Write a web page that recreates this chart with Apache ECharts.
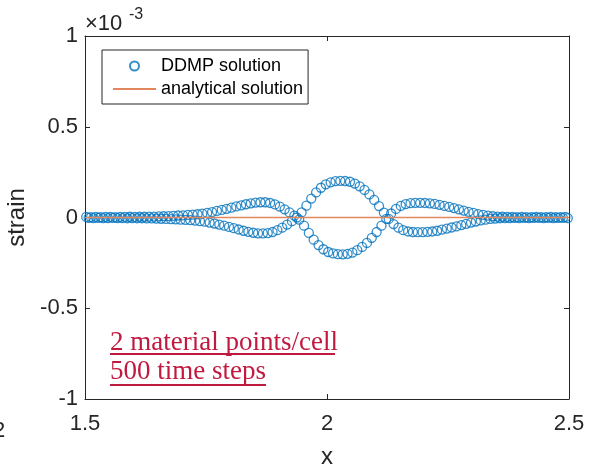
<!DOCTYPE html>
<html>
<head>
<meta charset="utf-8">
<script src="https://cdn.jsdelivr.net/npm/echarts@6/dist/echarts.min.js"></script>
<style>
html, body { margin: 0; padding: 0; background: #fff; }
#chart { width: 596px; height: 468px; }
</style>
</head>
<body>
<div id="chart"></div>
<script>
// strain values are in units of 1e-3 (axis shows x10^-3)
const xA = [
  1.5025, 1.5125, 1.5225, 1.5325, 1.5425, 1.5525, 1.5625, 1.5725, 1.5825, 1.5925,
  1.6025, 1.6125, 1.6225, 1.6325, 1.6425, 1.6525, 1.6625, 1.6725, 1.6825, 1.6925,
  1.7025, 1.7125, 1.7225, 1.7325, 1.7425, 1.7525, 1.7625, 1.7725, 1.7825, 1.7925,
  1.8025, 1.8125, 1.8225, 1.8325, 1.8425, 1.8525, 1.8625, 1.8725, 1.8825, 1.8925,
  1.9025, 1.9125, 1.9225, 1.9325, 1.9425, 1.9525, 1.9625, 1.9725, 1.9825, 1.9925,
  2.0025, 2.0125, 2.0225, 2.0325, 2.0425, 2.0525, 2.0625, 2.0725, 2.0825, 2.0925,
  2.1025, 2.1125, 2.1225, 2.1325, 2.1425, 2.1525, 2.1625, 2.1725, 2.1825, 2.1925,
  2.2025, 2.2125, 2.2225, 2.2325, 2.2425, 2.2525, 2.2625, 2.2725, 2.2825, 2.2925,
  2.3025, 2.3125, 2.3225, 2.3325, 2.3425, 2.3525, 2.3625, 2.3725, 2.3825, 2.3925,
  2.4025, 2.4125, 2.4225, 2.4325, 2.4425, 2.4525, 2.4625, 2.4725, 2.4825, 2.4925
];
const yA = [
  0.003, 0.002, 0.003, 0.002, 0.003, 0.003, 0.002, 0.003, 0.003, 0.004,
  0.003, 0.004, 0.004, 0.005, 0.005, 0.006, 0.007, 0.008, 0.009, 0.011,
  0.012, 0.014, 0.016, 0.018, 0.021, 0.025, 0.030, 0.036, 0.042, 0.048,
  0.054, 0.061, 0.067, 0.073, 0.078, 0.082, 0.084, 0.084, 0.080, 0.072,
  0.060, 0.045, 0.028, 0.010, -0.012, -0.045, -0.085, -0.122, -0.152, -0.175,
  -0.190, -0.198, -0.202, -0.203, -0.200, -0.193, -0.180, -0.162, -0.140, -0.112,
  -0.080, -0.045, -0.008, 0.022, 0.047, 0.064, 0.074, 0.079, 0.081, 0.081,
  0.080, 0.078, 0.075, 0.070, 0.064, 0.058, 0.052, 0.045, 0.038, 0.031,
  0.025, 0.019, 0.014, 0.010, 0.007, 0.005, 0.004, 0.003, 0.003, 0.002,
  0.003, 0.002, 0.002, 0.003, 0.002, 0.002, 0.003, 0.002, 0.002, 0.003
];
const xB = [
  1.5075, 1.5175, 1.5275, 1.5375, 1.5475, 1.5575, 1.5675, 1.5775, 1.5875, 1.5975,
  1.6075, 1.6175, 1.6275, 1.6375, 1.6475, 1.6575, 1.6675, 1.6775, 1.6875, 1.6975,
  1.7075, 1.7175, 1.7275, 1.7375, 1.7475, 1.7575, 1.7675, 1.7775, 1.7875, 1.7975,
  1.8075, 1.8175, 1.8275, 1.8375, 1.8475, 1.8575, 1.8675, 1.8775, 1.8875, 1.8975,
  1.9075, 1.9175, 1.9275, 1.9375, 1.9475, 1.9575, 1.9675, 1.9775, 1.9875, 1.9975,
  2.0075, 2.0175, 2.0275, 2.0375, 2.0475, 2.0575, 2.0675, 2.0775, 2.0875, 2.0975,
  2.1075, 2.1175, 2.1275, 2.1375, 2.1475, 2.1575, 2.1675, 2.1775, 2.1875, 2.1975,
  2.2075, 2.2175, 2.2275, 2.2375, 2.2475, 2.2575, 2.2675, 2.2775, 2.2875, 2.2975,
  2.3075, 2.3175, 2.3275, 2.3375, 2.3475, 2.3575, 2.3675, 2.3775, 2.3875, 2.3975,
  2.4075, 2.4175, 2.4275, 2.4375, 2.4475, 2.4575, 2.4675, 2.4775, 2.4875, 2.4975
];
const yB = [
  -0.002, -0.003, -0.002, -0.003, -0.003, -0.002, -0.003, -0.003, -0.004, -0.003,
  -0.004, -0.004, -0.005, -0.005, -0.006, -0.007, -0.008, -0.009, -0.010, -0.012,
  -0.013, -0.015, -0.017, -0.020, -0.023, -0.028, -0.033, -0.039, -0.045, -0.052,
  -0.059, -0.066, -0.073, -0.079, -0.084, -0.087, -0.088, -0.086, -0.080, -0.070,
  -0.056, -0.039, -0.020, 0.000, 0.028, 0.065, 0.104, 0.138, 0.164, 0.183,
  0.194, 0.200, 0.202, 0.201, 0.197, 0.187, 0.172, 0.152, 0.127, 0.097,
  0.063, 0.027, -0.008, -0.036, -0.056, -0.070, -0.077, -0.080, -0.081, -0.081,
  -0.079, -0.077, -0.073, -0.067, -0.061, -0.055, -0.049, -0.042, -0.035, -0.028,
  -0.022, -0.016, -0.012, -0.008, -0.006, -0.004, -0.003, -0.003, -0.002, -0.003,
  -0.002, -0.003, -0.002, -0.002, -0.003, -0.002, -0.003, -0.002, -0.002, -0.003
];
const analyticalX = [1.5, 2.5];
const analyticalY = [0, 0];

const xTicks = [1.5, 2.5, 0.5];   // min, max, interval
const yTicks = [-1, 1, 0.5];

const ink = '#262626';
const blue = '#0072BD';
const orange = '#E3875F';
const crimson = '#C01A40';

const zip = (xs, ys) => xs.map((x, i) => [x, ys[i]]);

const chart = echarts.init(document.getElementById('chart'));

const axisBase = {
  type: 'value',
  axisLine: { show: true, onZero: false, lineStyle: { color: ink, width: 1 } },
  axisTick: { show: true, inside: true, length: 5, lineStyle: { color: ink } },
  splitLine: { show: false },
};

chart.setOption({
  animation: false,
  textStyle: { fontFamily: 'Liberation Sans, Arial, sans-serif' },
  grid: { left: 85, right: 27, top: 36, bottom: 69, outerBoundsMode: 'none', containLabel: false },
  legend: {
    orient: 'vertical',
    left: 102,
    top: 50,
    padding: [7, 5, 6, 10],
    itemGap: 5,
    itemWidth: 43,
    itemHeight: 9,
    borderColor: ink,
    borderWidth: 1,
    backgroundColor: '#fff',
    textStyle: { fontSize: 18, color: '#000' },
    data: [
      { name: 'DDMP solution' },
      { name: 'analytical solution', itemStyle: { opacity: 0 } },
    ],
  },
  xAxis: [
    Object.assign({}, axisBase, {
      min: xTicks[0], max: xTicks[1], interval: xTicks[2],
      position: 'bottom',
      axisLabel: { color: ink, fontSize: 22, margin: 14 },
      name: 'x',
      nameLocation: 'middle',
      nameGap: 46,
      nameTextStyle: { color: ink, fontSize: 24 },
    }),
    Object.assign({}, axisBase, {
      min: xTicks[0], max: xTicks[1], interval: xTicks[2],
      position: 'top',
      axisLabel: { show: false },
    }),
  ],
  yAxis: [
    Object.assign({}, axisBase, {
      min: yTicks[0], max: yTicks[1], interval: yTicks[2],
      position: 'left',
      axisLabel: { color: ink, fontSize: 22, margin: 7 },
      name: 'strain',
      nameLocation: 'middle',
      nameGap: 48,
      nameTextStyle: { color: ink, fontSize: 24 },
    }),
    Object.assign({}, axisBase, {
      min: yTicks[0], max: yTicks[1], interval: yTicks[2],
      position: 'right',
      axisLabel: { show: false },
    }),
  ],
  series: [
    {
      name: 'DDMP solution',
      type: 'scatter',
      symbol: 'circle',
      symbolSize: 9,
      itemStyle: { color: 'rgba(255,255,255,0)', borderColor: blue, borderWidth: 1.3 },
      data: zip(xA, yA),
      z: 2,
    },
    {
      name: 'DDMP solution',
      type: 'scatter',
      symbol: 'circle',
      symbolSize: 9,
      itemStyle: { color: 'rgba(255,255,255,0)', borderColor: blue, borderWidth: 1.3 },
      data: zip(xB, yB),
      z: 2,
    },
    {
      name: 'analytical solution',
      type: 'line',
      symbol: 'none',
      lineStyle: { color: orange, width: 1.5 },
      itemStyle: { color: orange },
      data: zip(analyticalX, analyticalY),
      z: 3,
    },
  ],
  graphic: [
    { type: 'text', left: 85, top: 13, style: { text: '×10', fontSize: 22, fill: ink, fontFamily: 'Liberation Sans, Arial, sans-serif' } },
    { type: 'text', left: 129, top: 7, style: { text: '-3', fontSize: 16, fill: ink, fontFamily: 'Liberation Sans, Arial, sans-serif' } },
    { type: 'text', left: -7, top: 420, style: { text: '2', fontSize: 22, fill: ink, fontFamily: 'Liberation Sans, Arial, sans-serif' } },
    { type: 'text', x: 110, y: 343, style: { text: '2 material points/cell', fontSize: 27, fill: crimson, fontFamily: 'Liberation Serif, Times New Roman, serif', verticalAlign: 'middle' } },
    { type: 'line', shape: { x1: 110, y1: 354, x2: 335, y2: 354 }, style: { stroke: crimson, lineWidth: 2 } },
    { type: 'text', x: 110, y: 372, style: { text: '500 time steps', fontSize: 27, fill: crimson, fontFamily: 'Liberation Serif, Times New Roman, serif', verticalAlign: 'middle' } },
    { type: 'line', shape: { x1: 110, y1: 385, x2: 266, y2: 385 }, style: { stroke: crimson, lineWidth: 2 } },
  ],
});
</script>
</body>
</html>
